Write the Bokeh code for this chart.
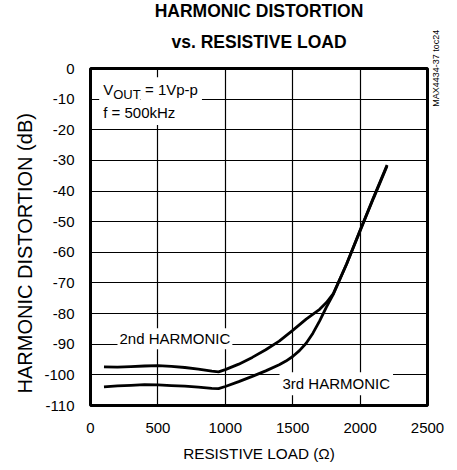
import math
from bokeh.plotting import figure
from bokeh.models import Range1d, Title, Label, LinearAxis, FixedTicker
from bokeh.embed import file_html
from bokeh.resources import INLINE

# ---- data ----
load_2nd = [100, 200, 300, 400, 500, 600, 700, 800, 900, 950, 1000, 1100, 1200,
            1300, 1400, 1500, 1600, 1700, 1750, 1800, 1900, 2000, 2100, 2200]
hd_2nd = [-97.4, -97.5, -97.3, -97.1, -97.0, -97.2, -97.6, -98.1, -98.8, -99.0, -98.3,
          -96.5, -94.3, -91.8, -89.0, -85.5, -81.8, -78.6, -76.4, -73.6, -63.8, -52.8,
          -42.0, -31.5]

load_3rd = [100, 200, 300, 400, 500, 600, 700, 800, 900, 950, 1000, 1100, 1200, 1300,
            1400, 1450, 1500, 1550, 1600, 1650, 1700, 1750, 1800, 1900, 2000, 2100, 2200]
hd_3rd = [-103.9, -103.6, -103.4, -103.2, -103.3, -103.5, -103.7, -104.0, -104.4, -104.5,
          -103.8, -102.2, -100.5, -98.7, -96.7, -95.5, -94.0, -92.1, -89.7, -86.4, -82.4,
          -77.9, -73.8, -63.8, -53.0, -42.3, -31.8]

x_ticks = [0, 500, 1000, 1500, 2000, 2500]
x_tick_labels = ["0", "500", "1000", "1500", "2000", "2500"]
y_ticks = [0, -10, -20, -30, -40, -50, -60, -70, -80, -90, -100, -110]
y_tick_labels = ["0", "-10", "-20", "-30", "-40", "-50", "-60", "-70", "-80", "-90",
                 "-100", "-110"]

FONT = "Liberation Sans"

p = figure(width=457, height=470, output_backend="svg", toolbar_location=None,
           x_range=Range1d(0, 2500), y_range=Range1d(-110, 0),
           min_border_left=90, min_border_right=30, min_border_top=68,
           min_border_bottom=65)
p.title = None

p.add_layout(Title(text="vs. RESISTIVE LOAD", align="center", text_font=FONT,
                   text_font_size="17.5px", text_font_style="bold",
                   text_color="black", standoff=33), "above")
p.add_layout(Title(text="HARMONIC DISTORTION", align="center", text_font=FONT,
                   text_font_size="17.5px", text_font_style="bold",
                   text_color="black", standoff=-15), "above")

p.outline_line_color = "black"
p.outline_line_width = 3
p.background_fill_color = "white"
p.border_fill_color = "white"

for g in (p.xgrid, p.ygrid):
    g.grid_line_color = "black"
    g.grid_line_width = 1.2

p.xaxis.ticker = x_ticks
p.yaxis.ticker = y_ticks
p.xaxis.major_label_overrides = dict(zip(x_ticks, x_tick_labels))
p.yaxis.major_label_overrides = dict(zip(y_ticks, y_tick_labels))

for ax in (p.xaxis, p.yaxis):
    ax.axis_line_color = None
    ax.major_tick_line_color = None
    ax.minor_tick_line_color = None
    ax.major_label_text_font = FONT
    ax.major_label_text_font_size = "15px"
    ax.major_label_text_color = "black"
    ax.axis_label_text_color = "black"
    ax.axis_label_text_font_style = "normal"

p.xaxis.major_label_standoff = 11
p.yaxis.major_label_standoff = 10
p.xaxis.axis_label = "RESISTIVE LOAD (Ω)"
p.xaxis.axis_label_text_font = FONT
p.xaxis.axis_label_text_font_size = "15.3px"
p.xaxis.axis_label_standoff = 9

# y axis title (sits lower than the frame centre in the reference)
p.add_layout(Title(text="HARMONIC DISTORTION (dB)", align="left", offset=12,
                   text_font=FONT, text_font_size="20px", text_font_style="normal",
                   text_color="black", standoff=12), "left")

# figure id on the right edge, reading bottom-to-top
id_axis = LinearAxis(ticker=FixedTicker(ticks=[-12.5]),
                     major_label_overrides={-12.5: "MAX4434-37 toc24"},
                     major_label_orientation=math.pi / 2,
                     major_label_text_font=FONT, major_label_text_font_size="9px",
                     major_label_text_color="black", major_label_standoff=3,
                     axis_line_color=None, major_tick_line_color=None,
                     minor_tick_line_color=None)
p.add_layout(id_axis, "right")

p.line(load_2nd, hd_2nd, line_color="black", line_width=2.8)
p.line(load_3rd, hd_3rd, line_color="black", line_width=2.8)

def lab(text, x, y, xo, yo, size="15px", pad=0, bg="white"):
    l = Label(x=x, y=y, x_offset=xo - pad, y_offset=yo, text=text, text_font=FONT,
              text_font_size=size, text_color="black", text_baseline="middle",
              text_align="left", padding=pad, background_fill_color=bg)
    p.add_layout(l)

# condition box
lab("f = 500kHz", 0, 0, 12.7, -44, pad=4)
lab("V", 0, 0, 12.7, -21.2, pad=4)
lab("= 1Vp-p", 0, 0, 54.5, -21.2, pad=4)
lab("OUT", 0, 0, 22.7, -25.5, size="13px", pad=0)

# curve labels
lab("2nd HARMONIC", 0, -90, 29, 5.4, pad=2)
lab("3rd HARMONIC", 1400, -100, 3.3, -9, pad=3)

open("out.html", "w").write(file_html(p, INLINE))
